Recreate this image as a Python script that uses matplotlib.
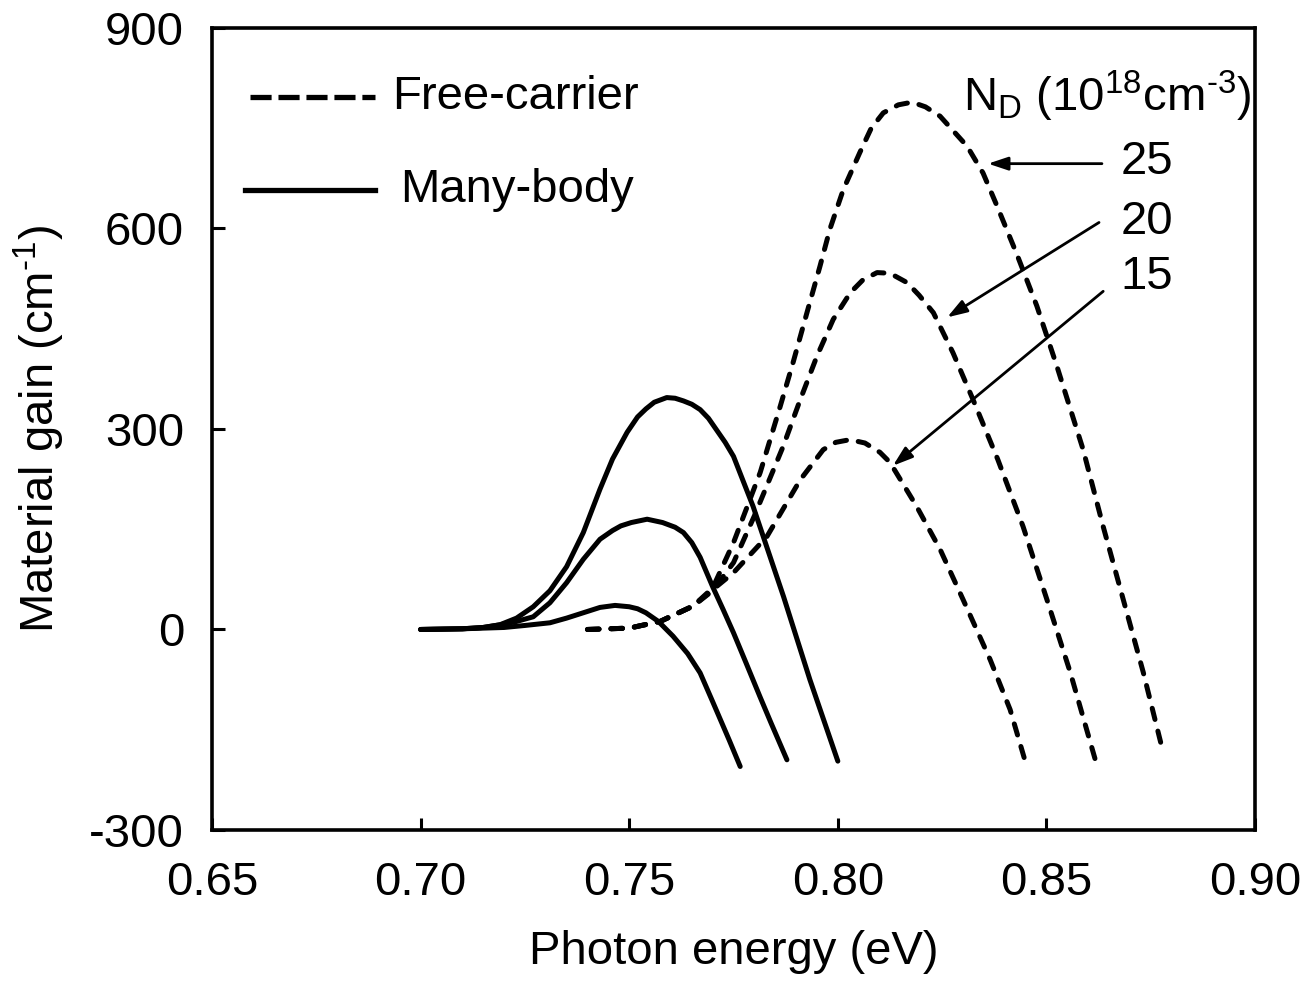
import matplotlib
matplotlib.use("Agg")
import matplotlib.pyplot as plt
from matplotlib.ticker import FormatStrFormatter

plt.rcParams['font.family'] = ['Liberation Sans', 'DejaVu Sans']
plt.rcParams['mathtext.fontset'] = 'custom'
plt.rcParams['mathtext.rm'] = 'Liberation Sans'
plt.rcParams['mathtext.it'] = 'Liberation Sans:italic'
plt.rcParams['axes.unicode_minus'] = False

# Many-body curves
mb25_x = [0.700, 0.710, 0.715, 0.719, 0.723, 0.727, 0.731, 0.735, 0.739, 0.743, 0.746,
          0.7495, 0.752, 0.754, 0.756, 0.759, 0.761, 0.763, 0.765, 0.767, 0.769, 0.771,
          0.773, 0.775, 0.7797, 0.787, 0.7933, 0.800]
mb25_y = [0, 1, 3, 7, 17, 34, 58, 94, 145, 210, 255, 295, 318, 330, 340, 347, 346, 342,
          337, 329, 316, 298, 280, 259, 184, 49, -75, -197]
mb20_x = [0.700, 0.710, 0.715, 0.719, 0.723, 0.727, 0.731, 0.735, 0.739, 0.743, 0.746,
          0.748, 0.7505, 0.7543, 0.758, 0.761, 0.763, 0.765, 0.767, 0.770, 0.7725, 0.775,
          0.778, 0.7813, 0.784, 0.7878]
mb20_y = [0, 1, 3, 7, 12, 19, 40, 70, 105, 135, 148, 155, 160, 165, 160, 153, 145, 130,
          108, 64, 30, -5, -50, -100, -140, -195]
mb15_x = [0.700, 0.710, 0.720, 0.725, 0.731, 0.735, 0.739, 0.743, 0.7466, 0.750, 0.752,
          0.754, 0.757, 0.7605, 0.764, 0.767, 0.770, 0.772, 0.774, 0.7766]
mb15_y = [0, 1, 3, 6, 10, 17, 25, 33, 36, 34, 31, 25, 12, -10, -36, -65, -108, -137, -166,
          -205]

# Free-carrier curves
fc25_x = [0.740, 0.750, 0.7574, 0.7653, 0.770, 0.775, 0.7814, 0.7862, 0.7893, 0.7926,
          0.7957, 0.7981, 0.8013, 0.8053, 0.808, 0.8109, 0.8145, 0.8178, 0.821, 0.8245,
          0.831, 0.8348, 0.8382, 0.843, 0.8477, 0.8525, 0.8588, 0.8636, 0.8684, 0.8732,
          0.8777]
fc25_y = [0, 2, 12, 35, 62, 130, 235, 334, 400, 474, 543, 599, 658, 714, 750, 773, 785,
          789, 782, 768, 723, 683, 633, 560, 484, 394, 269, 154, 45, -64, -177]
fc20_x = [0.740, 0.750, 0.7574, 0.7653, 0.770, 0.775, 0.780, 0.7869, 0.791, 0.795, 0.7989,
          0.803, 0.806, 0.8094, 0.8125, 0.8166, 0.8195, 0.8229, 0.8276, 0.8324, 0.8383,
          0.8444, 0.8501, 0.8557, 0.8624]
fc20_y = [0, 2, 12, 35, 58, 100, 170, 274, 344, 409, 464, 504, 523, 534, 533, 519, 500,
          474, 414, 344, 255, 154, 45, -64, -210]
fc15_x = [0.740, 0.750, 0.7574, 0.7653, 0.7701, 0.775, 0.783, 0.791, 0.7965, 0.7995,
          0.8029, 0.8065, 0.8101, 0.8125, 0.8189, 0.8245, 0.830, 0.8365, 0.8413, 0.8449]
fc15_y = [0, 2, 12, 35, 60, 85, 139, 224, 269, 280, 284, 279, 265, 250, 184, 120, 45,
          -45, -120, -197]

x_ticks = [0.65, 0.70, 0.75, 0.80, 0.85, 0.90]
y_ticks = [-300, 0, 300, 600, 900]

FS = 34
LW = 3.6

fig = plt.figure(figsize=(13.06, 9.96), dpi=100)
ax = fig.add_axes([0.1623, 0.1667, 0.961 - 0.1623, 0.9719 - 0.1667])

for xs, ys in [(mb25_x, mb25_y), (mb20_x, mb20_y), (mb15_x, mb15_y)]:
    ax.plot(xs, ys, color='black', lw=LW, solid_capstyle='round', solid_joinstyle='round')
for xs, ys in [(fc25_x, fc25_y), (fc20_x, fc20_y), (fc15_x, fc15_y)]:
    ax.plot(xs, ys, color='black', lw=LW, linestyle=(0, (2.3, 2.4)),
            dash_capstyle='round', dash_joinstyle='round')

ax.set_xlim(0.65, 0.90)
ax.set_ylim(-300, 900)
ax.set_xticks(x_ticks)
ax.set_yticks(y_ticks)
ax.xaxis.set_major_formatter(FormatStrFormatter('%.2f'))
ax.tick_params(direction='in', length=9, width=2.2, labelsize=FS, top=False, right=False)
ax.tick_params(axis='x', pad=22)
ax.tick_params(axis='y', pad=20)
for sp in ax.spines.values():
    sp.set_linewidth(2.6)

ax.set_xlabel('Photon energy (eV)', fontsize=FS, labelpad=18)
ax.set_ylabel(r'Material gain (cm$^{\text{-1}}$)', fontsize=FS, labelpad=16)

# legend (manual)
ax.plot([0.036, 0.156], [0.914, 0.914], transform=ax.transAxes, color='black', lw=3.8,
        linestyle=(0, (4.0, 1.3)), dash_capstyle='butt')
ax.text(0.1726, 0.914, 'Free-carrier', transform=ax.transAxes, fontsize=FS,
        va='center', ha='left')
ax.plot([0.032, 0.156], [0.798, 0.798], transform=ax.transAxes, color='black', lw=3.8)
ax.text(0.180, 0.798, 'Many-body', transform=ax.transAxes, fontsize=FS,
        va='center', ha='left')

# N_D label and arrows
ax.text(0.830, 797, r'N$_{\mathregular{D}}$ (10$^{\mathregular{18}}$cm$^{\text{-3}}$)',
        fontsize=FS, va='center', ha='left')
for lbl, ty, tail, head in [('25', 699, (0.8633, 697), (0.836, 697)),
                            ('20', 610, (0.8626, 609), (0.8262, 467)),
                            ('15', 527, (0.8636, 506), (0.8132, 245))]:
    ax.text(0.8677, ty, lbl, fontsize=FS, va='center', ha='left')
    ax.annotate('', xy=head, xytext=tail,
                arrowprops=dict(arrowstyle='-|>,head_length=1.2,head_width=0.4',
                                color='black', lw=2.0, shrinkA=0, shrinkB=0))

fig.savefig('out.png', dpi=100)
